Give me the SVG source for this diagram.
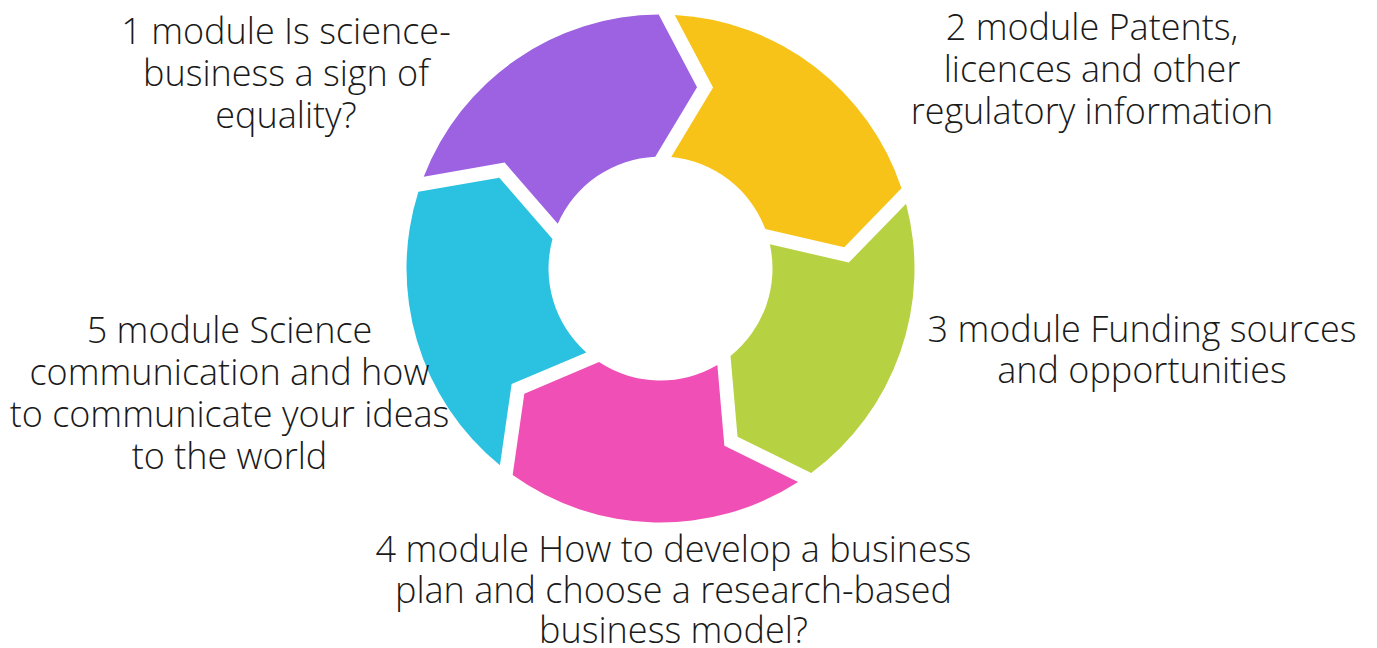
<svg xmlns="http://www.w3.org/2000/svg" width="1377" height="648" viewBox="0 0 1377 648">
  <defs>
    <style>
      .lbl { font-family: "Open Sans", "Noto Sans", "Liberation Sans", sans-serif; font-weight: 300; font-size: 36px; fill: #1a1a1a; text-anchor: middle; }
    </style>
    <!-- One ring segment: notched tail at the left, chevron head at the top; rotated into place for each module -->
    <path id="seg" d="M -238.98 -86.06 A 254 254 0 0 1 -8 -253.87 L 32.1 -182.2 L -8 -111.71 A 112 112 0 0 0 -103.77 -42.13 L -158.42 -102.05 Z"/>
  </defs>
  <rect width="1377" height="648" fill="#ffffff"/>

  <g id="ring" transform="translate(660.5 268.5)">
    <g id="node-1"><use href="#seg" fill="#9c62e1" transform="rotate(1.4)"/></g>
    <g id="node-2"><use href="#seg" fill="#f8c318" transform="rotate(73.4)"/></g>
    <g id="node-3"><use href="#seg" fill="#b6d243" transform="rotate(145.4)"/></g>
    <g id="node-4"><use href="#seg" fill="#f04fb5" transform="rotate(217.4)"/></g>
    <g id="node-5"><use href="#seg" fill="#2ac2e0" transform="rotate(289.4)"/></g>
  </g>

  <g id="connectors"></g>

  <g id="label-1">
    <text class="lbl" x="286" y="44">1 module Is science-</text>
    <text class="lbl" x="286" y="86">business a sign of</text>
    <text class="lbl" x="286" y="128">equality?</text>
  </g>
  <g id="label-2">
    <text class="lbl" x="1092" y="40">2 module Patents,</text>
    <text class="lbl" x="1092" y="82">licences and other</text>
    <text class="lbl" x="1092" y="123.5">regulatory information</text>
  </g>
  <g id="label-3">
    <text class="lbl" x="1142" y="341.5">3 module Funding sources</text>
    <text class="lbl" x="1142" y="382.5">and opportunities</text>
  </g>
  <g id="label-4">
    <text class="lbl" x="673.5" y="561.5">4 module How to develop a business</text>
    <text class="lbl" x="673.5" y="602.5">plan and choose a research-based</text>
    <text class="lbl" x="673.5" y="643">business model?</text>
  </g>
  <g id="label-5">
    <text class="lbl" x="229.5" y="343">5 module Science</text>
    <text class="lbl" x="229.5" y="385">communication and how</text>
    <text class="lbl" x="229.5" y="427">to communicate your ideas</text>
    <text class="lbl" x="229.5" y="468.5">to the world</text>
  </g>
</svg>
